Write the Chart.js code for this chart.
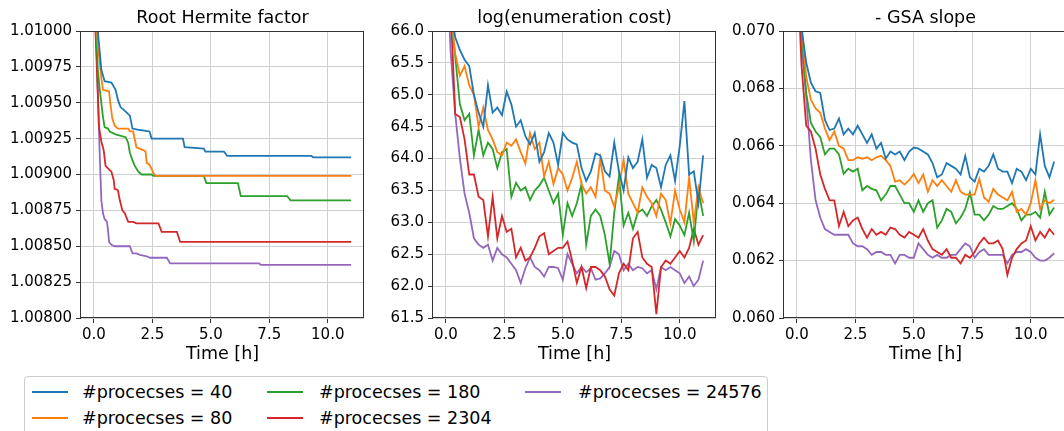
<!DOCTYPE html>
<html>
<head>
<meta charset="utf-8">
<script src="https://cdn.jsdelivr.net/npm/chart.js@4.4.0/dist/chart.umd.min.js"></script>
<style>
    html, body { margin: 0; padding: 0; background: #fff; }
    body { width: 1064px; height: 431px; overflow: hidden; position: relative; font-family: "DejaVu Sans", sans-serif; }
    canvas { position: absolute; top: 0; }
    #legend { position: absolute; left: 24px; top: 376px; width: 744px; height: 80px; border: 1px solid #cccccc; border-radius: 4px; box-sizing: border-box; background: #fff; }
    .swatch { position: absolute; height: 2px; width: 36px; }
    .lbl { position: absolute; font-size: 17.5px; line-height: 20px; color: #000; white-space: nowrap; }
</style>
</head>
<body>
<canvas id="hermiteChart" width="370" height="370" style="left:0px"></canvas>
<canvas id="costChart" width="370" height="370" style="left:352px"></canvas>
<canvas id="slopeChart" width="370" height="370" style="left:703px"></canvas>
<div id="legend"></div>
<script>
// ---- data ----
const labels = ['#procecses = 40', '#procecses = 80', '#procecses = 180', '#procecses = 2304', '#procecses = 24576'];
const colors = ['#1f77b4', '#ff7f0e', '#2ca02c', '#d62728', '#9467bd'];

const timeTicks = [0, 2.5, 5, 7.5, 10];
const hermiteTicks = [1.008, 1.00825, 1.0085, 1.00875, 1.009, 1.00925, 1.0095, 1.00975, 1.01];
const costTicks = [61.5, 62.0, 62.5, 63.0, 63.5, 64.0, 64.5, 65.0, 65.5, 66.0];
const slopeTicks = [0.060, 0.062, 0.064, 0.066, 0.068, 0.070];

// root hermite factor: times where the best value changes
const hermiteT40 = [0.10, 0.17, 0.32, 0.46, 0.75, 0.93, 1.03, 1.14, 1.28, 1.54, 1.65, 1.97, 2.38, 2.47, 3.81, 3.88, 4.70, 4.77, 5.56, 5.70, 9.30, 9.37, 11.0];
const hermite40 = [1.0118, 1.0100, 1.00973, 1.00965, 1.00964, 1.00959, 1.00952, 1.00947, 1.00945, 1.00941, 1.00932, 1.00931, 1.00930, 1.00925, 1.00925, 1.00919, 1.00918, 1.00916, 1.00916, 1.00913, 1.00913, 1.00912, 1.00912];
const hermiteT80 = [0.08, 0.13, 0.17, 0.24, 0.32, 0.39, 0.65, 0.70, 0.79, 0.89, 1.03, 1.47, 1.54, 1.68, 1.82, 2.11, 2.21, 2.26, 2.37, 2.47, 2.54, 2.66, 11.0];
const hermite80 = [1.0118, 1.0100, 1.00989, 1.00980, 1.00967, 1.00959, 1.00958, 1.00950, 1.00939, 1.00934, 1.00932, 1.00932, 1.00930, 1.00930, 1.00919, 1.00917, 1.00916, 1.00908, 1.00907, 1.00904, 1.00901, 1.00899, 1.00899];
const hermiteT180 = [0.06, 0.10, 0.17, 0.24, 0.39, 0.46, 0.60, 0.68, 0.93, 1.36, 1.47, 1.54, 1.65, 1.75, 1.90, 2.04, 2.47, 2.54, 4.70, 4.81, 6.16, 6.28, 8.26, 8.41, 11.0];
const hermite180 = [1.0118, 1.0100, 1.00973, 1.00961, 1.00940, 1.00933, 1.00932, 1.00930, 1.00928, 1.00926, 1.00922, 1.00915, 1.00910, 1.00906, 1.00902, 1.00900, 1.00900, 1.00899, 1.00899, 1.00894, 1.00894, 1.00885, 1.00885, 1.00882, 1.00882];
const hermiteT2304 = [0.04, 0.07, 0.22, 0.32, 0.42, 0.50, 0.68, 0.75, 0.85, 0.89, 1.03, 1.11, 1.22, 1.32, 1.47, 1.68, 1.82, 2.76, 2.90, 3.55, 3.69, 11.0];
const hermite2304 = [1.0125, 1.0100, 1.00933, 1.00923, 1.00917, 1.00906, 1.00903, 1.00902, 1.00896, 1.00890, 1.00889, 1.00882, 1.00875, 1.00873, 1.00867, 1.00867, 1.00866, 1.00866, 1.00860, 1.00860, 1.00853, 1.00853];
const hermiteT24576 = [0.04, 0.10, 0.24, 0.32, 0.39, 0.46, 0.56, 0.60, 0.65, 0.75, 0.89, 1.54, 1.65, 1.82, 1.97, 2.26, 2.40, 3.12, 3.26, 7.07, 7.14, 11.0];
const hermite24576 = [1.0130, 1.00996, 1.00919, 1.00882, 1.00873, 1.00869, 1.00867, 1.00862, 1.00853, 1.00851, 1.00850, 1.00850, 1.00845, 1.00845, 1.00844, 1.00843, 1.00842, 1.00842, 1.00838, 1.00838, 1.00837, 1.00837];

// sample times [h] for the two noisy panels
const hours = [0.0, 0.2, 0.4, 0.6, 0.8, 1.0, 1.2, 1.4, 1.6, 1.8, 2.0, 2.2, 2.4, 2.6, 2.8, 3.0, 3.2, 3.4, 3.6, 3.8,
    4.0, 4.2, 4.4, 4.6, 4.8, 5.0, 5.2, 5.4, 5.6, 5.8, 6.0, 6.2, 6.4, 6.6, 6.8, 7.0, 7.2, 7.4, 7.6, 7.8,
    8.0, 8.2, 8.4, 8.6, 8.8, 9.0, 9.2, 9.4, 9.6, 9.8, 10.0, 10.2, 10.4, 10.6, 10.8, 11.0];

// log(enumeration cost)
const cost40 = [67.0, 66.4, 65.9, 65.7, 65.55, 65.45, 65.0, 64.72, 64.5, 65.15, 64.72, 64.8, 64.68, 65.05, 64.85, 64.5, 64.6, 64.35, 64.22, 64.4,
    63.95, 64.1, 64.4, 64.25, 63.9, 64.4, 64.3, 64.25, 64.22, 63.85, 63.65, 63.8, 64.08, 64.05, 63.8, 63.72, 64.25, 63.8, 63.5, 64.02,
    63.85, 63.95, 64.3, 63.7, 63.9, 63.85, 63.55, 63.9, 64.05, 63.65, 64.2, 64.9, 63.75, 63.8, 63.3, 64.05];
const cost80 = [67.0, 66.3, 65.65, 65.3, 65.45, 65.15, 65.0, 64.5, 64.8, 64.45, 64.3, 64.1, 64.05, 64.25, 64.2, 64.3, 64.1, 63.92, 64.4, 64.15,
    64.25, 63.72, 63.95, 63.6, 63.85, 63.75, 63.5, 63.7, 63.95, 63.6, 63.45, 63.55, 63.4, 64.0, 63.5, 63.45, 63.25, 63.55, 63.98, 63.45,
    63.3, 63.15, 63.55, 63.4, 63.3, 63.1, 63.45, 63.35, 62.98, 63.5, 63.2, 63.0, 63.7, 63.0, 63.55, 63.3];
const cost180 = [67.0, 66.3, 65.6, 64.85, 64.6, 64.7, 64.05, 64.45, 64.05, 64.25, 64.15, 63.85, 64.1, 64.15, 63.4, 63.62, 63.5, 63.55, 63.35, 63.5,
    63.58, 63.7, 63.5, 63.3, 63.45, 62.8, 63.3, 63.1, 63.3, 63.6, 62.65, 63.1, 63.2, 63.1, 62.8, 62.35, 63.15, 63.72, 62.95, 63.15,
    62.9, 63.15, 63.2, 63.1, 63.25, 63.35, 63.2, 63.0, 62.78, 63.05, 62.95, 62.8, 63.15, 62.7, 63.5, 63.1];
const cost2304 = [67.0, 66.4, 64.7, 64.65, 64.3, 63.75, 63.75, 63.4, 63.35, 62.78, 63.4, 62.75, 63.1, 62.85, 62.9, 62.45, 62.6, 62.4, 62.45, 62.6,
    62.78, 62.83, 62.5, 62.55, 62.6, 62.6, 62.7, 62.4, 62.05, 62.3, 61.97, 62.3, 62.3, 62.25, 62.15, 61.95, 61.85, 62.2, 62.35, 62.25,
    62.75, 62.85, 62.45, 62.35, 62.3, 61.56, 62.3, 62.4, 62.35, 62.45, 62.55, 62.45, 62.6, 62.9, 62.65, 62.8];
const cost24576 = [67.5, 65.7, 64.7, 64.0, 63.45, 63.15, 62.75, 62.65, 62.6, 62.65, 62.4, 62.6, 62.5, 62.45, 62.35, 62.25, 62.05, 62.28, 62.45, 62.3,
    62.25, 62.15, 62.3, 62.3, 62.28, 62.1, 62.5, 62.35, 62.2, 62.3, 62.22, 62.28, 62.1, 62.12, 62.2, 62.3, 62.55, 62.5, 62.25, 62.35,
    62.25, 62.3, 62.28, 62.2, 62.25, 61.95, 62.3, 62.25, 62.3, 62.25, 62.2, 62.05, 62.15, 62.0, 62.1, 62.4];

// - GSA slope
const slope40 = [0.0725, 0.0701, 0.0689, 0.0682, 0.0679, 0.06784, 0.0669, 0.06655, 0.0666, 0.06695, 0.0664, 0.0666, 0.0664, 0.0667, 0.0664, 0.0661,
    0.0664, 0.0659, 0.0661, 0.06555, 0.0658, 0.0657, 0.0658, 0.0655, 0.0658, 0.06594, 0.0659, 0.0658, 0.0657, 0.0654, 0.0649,
    0.0650, 0.0654, 0.0653, 0.0652, 0.0650, 0.06565, 0.0649, 0.06475, 0.0652, 0.0651, 0.0653, 0.0657, 0.0652, 0.0651, 0.0651,
    0.0647, 0.0652, 0.0651, 0.0648, 0.0652, 0.0650, 0.0664, 0.0653, 0.0649, 0.06545];
const slope80 = [0.0725, 0.0702, 0.0684, 0.0676, 0.0673, 0.06715, 0.0666, 0.0662, 0.0665, 0.0660, 0.0659, 0.0655, 0.0655, 0.0656, 0.06555, 0.0656,
    0.0655, 0.0656, 0.06565, 0.0655, 0.0653, 0.06475, 0.0648, 0.06465, 0.0648, 0.06502, 0.0647, 0.0650, 0.0644, 0.0648, 0.0646,
    0.0648, 0.0646, 0.0644, 0.0648, 0.0644, 0.0643, 0.0643, 0.0643, 0.06485, 0.0642, 0.06405, 0.0645, 0.0643, 0.0642, 0.0641,
    0.0644, 0.0637, 0.0638, 0.0636, 0.0640, 0.0648, 0.0638, 0.0641, 0.0640, 0.06412];
const slope180 = [0.0725, 0.0700, 0.06784, 0.0668, 0.0665, 0.0663, 0.0657, 0.0659, 0.0659, 0.0657, 0.06502, 0.0652, 0.0651, 0.0652, 0.06445, 0.0646,
    0.0645, 0.06445, 0.0641, 0.0643, 0.0646, 0.0646, 0.0643, 0.0640, 0.0640, 0.0637, 0.0641, 0.0637, 0.0640, 0.0641, 0.06315,
    0.0634, 0.0638, 0.0637, 0.0633, 0.0635, 0.0638, 0.06437, 0.0636, 0.0636, 0.0634, 0.0636, 0.0639, 0.0638, 0.0638, 0.0639,
    0.0640, 0.0638, 0.0634, 0.0636, 0.0636, 0.0637, 0.0635, 0.0644, 0.0636, 0.06385];
const slope2304 = [0.0725, 0.0688, 0.0667, 0.0665, 0.0659, 0.0650, 0.0645, 0.0641, 0.0641, 0.0632, 0.0637, 0.0632, 0.0634, 0.0635, 0.0631, 0.0628,
    0.0631, 0.0629, 0.0630, 0.0629, 0.06315, 0.0631, 0.0629, 0.0628, 0.0630, 0.0629, 0.0628, 0.0631, 0.0627, 0.0624, 0.0623,
    0.0622, 0.0624, 0.0621, 0.0621, 0.0619, 0.0622, 0.0621, 0.0623, 0.0626, 0.0628, 0.0626, 0.0626, 0.0627, 0.0624, 0.0615,
    0.0621, 0.0624, 0.0626, 0.0627, 0.0632, 0.0627, 0.0630, 0.0628, 0.0631, 0.0629];
const slope24576 = [0.0725, 0.0695, 0.0677, 0.0655, 0.0641, 0.0635, 0.0631, 0.0630, 0.0629, 0.0629, 0.0629, 0.0629, 0.0626, 0.0625, 0.0625, 0.0624,
    0.0622, 0.0623, 0.0623, 0.0622, 0.0622, 0.0619, 0.0622, 0.0622, 0.0621, 0.0621, 0.0626, 0.0624, 0.0622, 0.0621, 0.0622,
    0.0621, 0.0621, 0.0622, 0.0622, 0.0624, 0.0626, 0.0625, 0.0621, 0.0623, 0.0624, 0.0622, 0.0622, 0.0622, 0.0622, 0.0619,
    0.0622, 0.0623, 0.0623, 0.0624, 0.0623, 0.0621, 0.0620, 0.0620, 0.0621, 0.06226];

// ---- drawing ----
const FONT = '"DejaVu Sans", sans-serif';
const GRID = '#d0d0d0';
const SPINE = '#333333';

// matplotlib-like box round the axes
const frame = {
    id: 'frame',
    afterDraw(chart) {
        const a = chart.chartArea;
        const ctx = chart.ctx;
        ctx.save();
        ctx.strokeStyle = SPINE;
        ctx.lineWidth = 1;
        ctx.strokeRect(Math.round(a.left) - 0.5, Math.round(a.top) + 0.5, Math.round(a.right - a.left), Math.round(a.bottom - a.top) - 1);
        ctx.restore();
    }
};

function pairs(ts, vs) {
    return ts.map((t, k) => ({x: t, y: vs[k]}));
}

function makePanel(id, title, yTicks, digits, series) {
    return new Chart(id, {
        type: 'line',
        data: {
            datasets: series.map((s, i) => ({
                label: labels[i],
                data: pairs(s[0], s[1]),
                borderColor: colors[i],
                backgroundColor: colors[i],
                borderWidth: 1.8,
                pointRadius: 0,
                fill: false,
                tension: 0
            }))
        },
        options: {
            responsive: false,
            animation: false,
            layout: {padding: {left: 0, right: 6, top: 0, bottom: 0}},
            plugins: {
                legend: {display: false},
                tooltip: {enabled: false},
                title: {
                    display: true,
                    fullSize: false,   // centre over the plot area, like matplotlib
                    text: title,
                    color: '#000',
                    font: {family: FONT, size: 17.5, weight: 'normal'},
                    padding: {top: 8, bottom: 2}
                }
            },
            scales: {
                x: {
                    type: 'linear',
                    min: -0.55,
                    max: 11.55,
                    afterBuildTicks: (sc) => { sc.ticks = timeTicks.map(v => ({value: v})); },
                    afterFit: (sc) => { sc.height = 52; },
                    ticks: {
                        callback: (v) => Number(v).toFixed(1),
                        color: '#000',
                        font: {family: FONT, size: 15},
                        padding: 3,
                        maxRotation: 0,
                        autoSkip: false
                    },
                    grid: {color: GRID, tickColor: SPINE, tickLength: 5, lineWidth: 1},
                    border: {display: false},
                    title: {
                        display: true,
                        text: 'Time [h]',
                        color: '#000',
                        font: {family: FONT, size: 17.5},
                        padding: {top: 0, bottom: 5}
                    }
                },
                y: {
                    min: yTicks[0],
                    max: yTicks[yTicks.length - 1],
                    afterBuildTicks: (sc) => { sc.ticks = yTicks.map(v => ({value: v})); },
                    afterFit: (sc) => { sc.width = 81; },
                    ticks: {
                        callback: (v) => Number(v).toFixed(digits),
                        color: '#000',
                        font: {family: FONT, size: 15},
                        padding: 4,
                        autoSkip: false
                    },
                    grid: {color: GRID, tickColor: SPINE, tickLength: 5, lineWidth: 1},
                    border: {display: false}
                }
            }
        },
        plugins: [frame]
    });
}

makePanel('hermiteChart', 'Root Hermite factor', hermiteTicks, 5, [
    [hermiteT40, hermite40],
    [hermiteT80, hermite80],
    [hermiteT180, hermite180],
    [hermiteT2304, hermite2304],
    [hermiteT24576, hermite24576]
]);

makePanel('costChart', 'log(enumeration cost)', costTicks, 1, [
    [hours, cost40],
    [hours, cost80],
    [hours, cost180],
    [hours, cost2304],
    [hours, cost24576]
]);

makePanel('slopeChart', '- GSA slope', slopeTicks, 3, [
    [hours, slope40],
    [hours, slope80],
    [hours, slope180],
    [hours, slope2304],
    [hours, slope24576]
]);

// legend below the panels, filled column by column
const legendBox = document.getElementById('legend');
const lineX = [7, 242, 500];
const textX = [57, 294, 553];
const rowY = [15, 41];
labels.forEach((name, i) => {
    const col = Math.floor(i / 2);
    const row = i % 2;
    const sw = document.createElement('div');
    sw.className = 'swatch';
    sw.style.left = lineX[col] + 'px';
    sw.style.top = (rowY[row] - 1) + 'px';
    sw.style.background = colors[i];
    legendBox.appendChild(sw);
    const tx = document.createElement('div');
    tx.className = 'lbl';
    tx.style.left = textX[col] + 'px';
    tx.style.top = (rowY[row] - 10) + 'px';
    tx.textContent = name;
    legendBox.appendChild(tx);
});
</script>
</body>
</html>
